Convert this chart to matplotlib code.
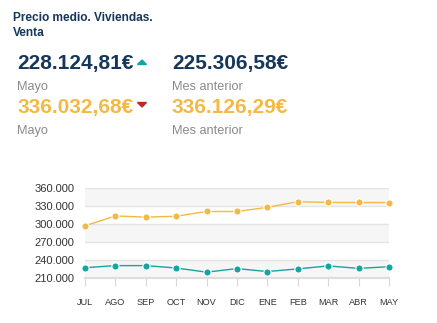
import matplotlib
matplotlib.use('Agg')
import matplotlib.pyplot as plt
from matplotlib.ticker import FuncFormatter

plt.rcParams['font.family'] = ['Liberation Sans', 'DejaVu Sans']

# data
months = ['JUL', 'AGO', 'SEP', 'OCT', 'NOV', 'DIC', 'ENE', 'FEB', 'MAR', 'ABR', 'MAY']
venta = [297000, 313500, 311500, 313000, 321000, 321000, 328000, 337500, 336200, 336126, 336033]
viviendas = [226500, 230000, 230000, 226000, 219000, 225000, 220000, 224500, 229500, 225307, 228125]
yticks = [210000, 240000, 270000, 300000, 330000, 360000]

navy = '#16375a'
orange = '#f4b944'
teal = '#16a3a3'
grey = '#8a8a8a'

fig = plt.figure(figsize=(4.37, 3.23), dpi=100)
W, H = 437.0, 323.0

def fx(x):
    return x / W

def fy(y):
    return 1 - y / H

# header texts
fig.text(fx(13), fy(18), 'Precio medio. Viviendas.', fontsize=8.6, fontweight='bold', color=navy, va='center')
fig.text(fx(13), fy(33), 'Venta', fontsize=8.6, fontweight='bold', color=navy, va='center')

fig.text(fx(17), fy(64), '228.124,81€', fontsize=15, fontweight='bold', color=navy, va='center')
fig.text(fx(17), fy(87), 'Mayo', fontsize=9.2, color=grey, va='center')
fig.text(fx(17), fy(108), '336.032,68€', fontsize=15, fontweight='bold', color=orange, va='center')
fig.text(fx(17), fy(131), 'Mayo', fontsize=9.2, color=grey, va='center')

# small up/down arrows as flat triangles
fig.add_artist(plt.Polygon([[fx(137.5), fy(64.5)], [fx(146.5), fy(64.5)], [fx(142), fy(60)]],
                           closed=True, color=teal, transform=fig.transFigure))
fig.add_artist(plt.Polygon([[fx(137.5), fy(102.5)], [fx(146.5), fy(102.5)], [fx(142), fy(107)]],
                           closed=True, color='#c0272d', transform=fig.transFigure))

fig.text(fx(172), fy(64), '225.306,58€', fontsize=15, fontweight='bold', color=navy, va='center')
fig.text(fx(172), fy(87), 'Mes anterior', fontsize=9.2, color=grey, va='center')
fig.text(fx(172), fy(108), '336.126,29€', fontsize=15, fontweight='bold', color=orange, va='center')
fig.text(fx(172), fy(131), 'Mes anterior', fontsize=9.2, color=grey, va='center')

# chart
ax = fig.add_axes([fx(85), fy(277.5), fx(389) - fx(85), (277.5 - 188.3) / H])
x = list(range(len(months)))
ax.set_xlim(0, len(months) - 1)
ax.set_ylim(yticks[0], yticks[-1])

for i in range(len(yticks) - 1):
    if i % 2 == 0:
        ax.axhspan(yticks[i], yticks[i + 1], color='#f6f6f6', zorder=0, lw=0)
for t in yticks:
    ax.axhline(t, color='#e4e4e4', lw=1, zorder=1)

ax.plot(x, venta, color=orange, lw=1, marker='o', ms=5.2, mfc=orange, mec='white', mew=0.8, zorder=3, clip_on=False)
ax.plot(x, viviendas, color=teal, lw=1, marker='o', ms=5.2, mfc=teal, mec='white', mew=0.8, zorder=3, clip_on=False)

ax.set_yticks(yticks)
ax.yaxis.set_major_formatter(FuncFormatter(lambda v, p: '{:,.0f}'.format(v).replace(',', '.')))
ax.set_xticks(x)
ax.set_xticklabels(months)
ax.tick_params(axis='y', length=0, pad=7.5, labelsize=8, labelcolor='#333333')
ax.tick_params(axis='x', length=6, width=0.8, color='#d8d8d8', pad=9, labelsize=6.6, labelcolor='#333333')
for s in ['top', 'right', 'left']:
    ax.spines[s].set_visible(False)
ax.spines['bottom'].set_color('#dddddd')
ax.spines['bottom'].set_linewidth(1.5)

fig.savefig('out.png', dpi=100)
